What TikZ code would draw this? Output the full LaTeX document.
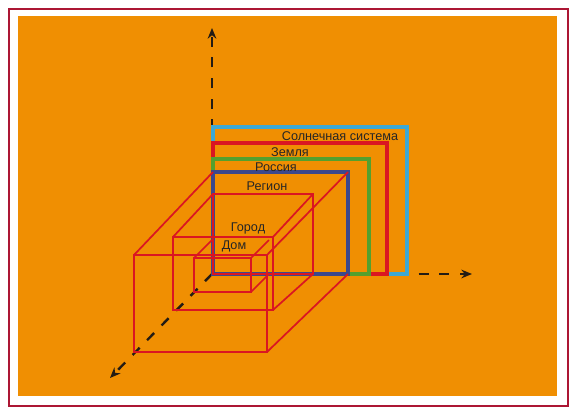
\documentclass[tikz,border=0pt]{standalone}
\usepackage{fontspec}
\setmainfont{Liberation Sans}
\usetikzlibrary{arrows.meta}
\definecolor{scBorder}{RGB}{172,22,52}
\definecolor{scOrange}{RGB}{240,143,2}
\definecolor{scCyan}{RGB}{62,168,210}
\definecolor{scRed}{RGB}{218,22,34}
\definecolor{scGreen}{RGB}{84,160,46}
\definecolor{scBlue}{RGB}{60,72,140}
\definecolor{scAxis}{RGB}{36,28,20}
\tikzset{
  planerect/.style={draw=#1,line width=3pt},
  boxfront/.style={draw=scRed,line width=2.2pt},
  boxedge/.style={draw=scRed,line width=1.3pt},
  axisline/.style={scAxis,line width=1.8pt,dash pattern=on 7.5pt off 8pt,
                   -{Stealth[length=8pt,width=6.5pt]}},
  lbl/.style={font=\fontsize{9.5}{11}\selectfont,text=black!85,inner sep=0pt},
}

\begin{document}
\begin{tikzpicture}[x=0.75pt,y=-0.75pt]
\useasboundingbox (0,0) rectangle (576,411);
\draw[scBorder,line width=1.5pt,fill=white] (8.5,8.5) rectangle (567.5,405.5);
\fill[scOrange] (18,16) rectangle (557,396);

% =================================================================
% axes
% =================================================================
\coordinate (O)    at (212,274);
\coordinate (ytip) at (212,28);
\coordinate (xtip) at (472,274);
\coordinate (ztip) at (110,378);

\foreach \t in {ytip, xtip, ztip}
  \draw[axisline] (O) -- (\t);

% =================================================================
% back plane: nested rectangles
% =================================================================
\draw[planerect=scCyan]  (213,127) rectangle (407,274);
\draw[planerect=scRed]   (213,143) rectangle (387,274);
\draw[planerect=scGreen] (213,159) rectangle (369,274);
\draw[planerect=scBlue]  (213,172) rectangle (348,274);

% region rectangle (back face of middle box)
\coordinate (rTL) at (213,194);
\coordinate (rTR) at (313,194);
\coordinate (rBR) at (313,274);
\draw[boxfront] (rTL) rectangle (rBR);

% =================================================================
% boxes coming out of the plane
% =================================================================
% big box
\coordinate (bTL) at (134,255);
\coordinate (bTR) at (267,255);
\coordinate (bBR) at (267,352);
\coordinate (pTL) at (213,172);
\coordinate (pTR) at (348,172);
\coordinate (pBR) at (348,274);
\draw[boxfront] (bTL) rectangle (bBR);
\foreach \a/\b in {bTL/pTL, bTR/pTR, bBR/pBR}
  \draw[boxedge] (\a) -- (\b);

% middle box
\coordinate (mTL) at (173,237);
\coordinate (mTR) at (273,237);
\coordinate (mBR) at (273,310);
\draw[boxfront] (mTL) rectangle (mBR);
\foreach \a/\b in {mTL/rTL, mTR/rTR, mBR/rBR}
  \draw[boxedge] (\a) -- (\b);

% small box
\coordinate (sTL) at (194,258);
\coordinate (sTR) at (251,258);
\coordinate (sBR) at (251,292);
\coordinate (kTL) at (212,240);
\coordinate (kTR) at (269,240);
\coordinate (kBR) at (269,274);
\draw[boxfront] (sTL) rectangle (sBR);
\foreach \a/\b in {sTL/kTL, sTR/kTR, sBR/kBR}
  \draw[boxedge] (\a) -- (\b);

% =================================================================
% labels
% =================================================================
\node[lbl] (sun)    at (340,136) {Солнечная система};
\node[lbl] (earth)  at (290,152) {Земля};
\node[lbl] (russia) at (276,167) {Россия};
\node[lbl] (region) at (267,186) {Регион};
\node[lbl] (city)   at (248,228) {Город};
\node[lbl] (home)   at (234,246) {Дом};

\end{tikzpicture}
\end{document}
